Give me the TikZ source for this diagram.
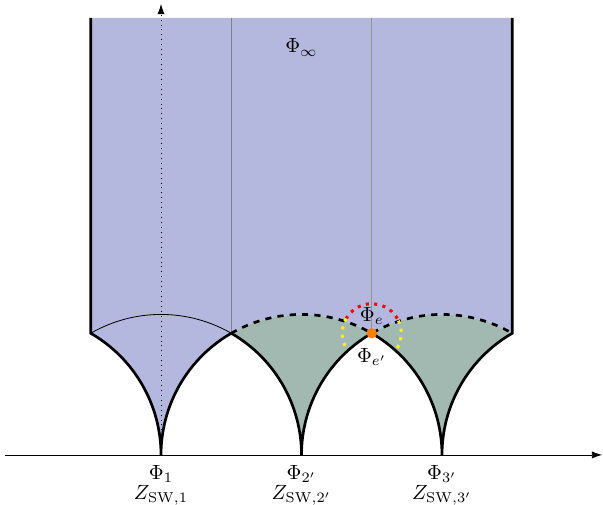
\documentclass[tikz,border=0pt]{standalone}
\usepackage{amsmath,amssymb}
\usepackage{tikz}
\usetikzlibrary{calc,positioning,arrows.meta}
\definecolor{domblue}{RGB}{181,184,222}
\definecolor{domgreen}{RGB}{161,185,176}

\begin{document}
\begin{tikzpicture}[
    x=2.4cm, y=2.4cm,
    bound/.style={line width=1.3pt, draw=black},
    cusplabel/.style={below=4pt, align=center, inner sep=1pt},
    halo/.style={line width=1.5pt, dash pattern=on 1.5pt off 2.6pt}
  ]
    \useasboundingbox (-1.146,-0.356) rectangle (3.146,3.238);
    % cusps, corners and top of the strip
    \coordinate (c1) at (0,0);
    \coordinate (c2) at (1,0);
    \coordinate (c3) at (2,0);
    \coordinate (a0) at (-0.5,0.866);
    \coordinate (a1) at (0.5,0.866);
    \coordinate (a2) at (1.5,0.866);
    \coordinate (a3) at (2.5,0.866);
    \coordinate (t0) at (-0.5,3.11);
    \coordinate (t1) at (0.5,3.11);
    \coordinate (t2) at (1.5,3.11);
    \coordinate (t3) at (2.5,3.11);
    \coordinate (ytop) at (0,3.21);
    \coordinate (xl) at (-1.11,0);
    \coordinate (xr) at (3.14,0);

    % regions
    \fill[domblue] (t0) -- (a0) arc[start angle=60, end angle=0, radius=1]
      arc[start angle=180, end angle=120, radius=1]
      arc[start angle=120, end angle=60, radius=1]
      arc[start angle=120, end angle=60, radius=1] -- (t3) -- cycle;
    \fill[domgreen] (a1) arc[start angle=120, end angle=60, radius=1]
      arc[start angle=120, end angle=180, radius=1]
      arc[start angle=0, end angle=60, radius=1] -- cycle;
    \fill[domgreen] (a2) arc[start angle=120, end angle=60, radius=1]
      arc[start angle=120, end angle=180, radius=1]
      arc[start angle=0, end angle=60, radius=1] -- cycle;

    % inner lines
    \draw[black!50] (a1) -- (t1);
    \draw[black!42] (a2) -- (t2);
    \draw[thin] (a0) arc[start angle=120, end angle=60, radius=1];
    \draw[bound, dashed] (a1) arc[start angle=120, end angle=60, radius=1]
      arc[start angle=120, end angle=60, radius=1];

    % axes
    \draw[-{Latex[length=5pt,width=3.5pt]}] (xl) -- (xr);
    \draw[dotted, -{Latex[length=5pt,width=3.5pt]}] (c1) -- (ytop);

    % boundary of the domain
    \draw[bound] (t0) -- (a0) arc[start angle=60, end angle=0, radius=1]
      arc[start angle=180, end angle=120, radius=1]
      arc[start angle=60, end angle=0, radius=1]
      arc[start angle=180, end angle=120, radius=1]
      arc[start angle=60, end angle=0, radius=1]
      arc[start angle=180, end angle=120, radius=1] -- (t3);

    % around the vertex
    \draw[halo, red] ($(a2)+(30:0.21)$) arc[start angle=30, end angle=150, radius=0.21];
    \draw[halo, yellow] ($(a2)+(150:0.21)$) arc[start angle=150, end angle=210, radius=0.21];
    \draw[halo, yellow] ($(a2)+(-30:0.21)$) arc[start angle=-30, end angle=30, radius=0.21];
    \fill[orange] (a2) circle[radius=0.037];

    % labels
    \node (pinf) at (1,2.9) {$\Phi_\infty$};
    \node (pe) at (1.5,0.99) {$\Phi_e$};
    \node (pep) at (1.5,0.7) {$\Phi_{e'}$};
    \node[cusplabel] (l1) at (c1) {$\Phi_1$\\[-2.4pt]$Z_{\mathrm{SW},1}$};
    \node[cusplabel] (l2) at (c2) {$\Phi_{2'}$\\[-2.4pt]$Z_{\mathrm{SW},2'}$};
    \node[cusplabel] (l3) at (c3) {$\Phi_{3'}$\\[-2.4pt]$Z_{\mathrm{SW},3'}$};
  \end{tikzpicture}
\end{document}
